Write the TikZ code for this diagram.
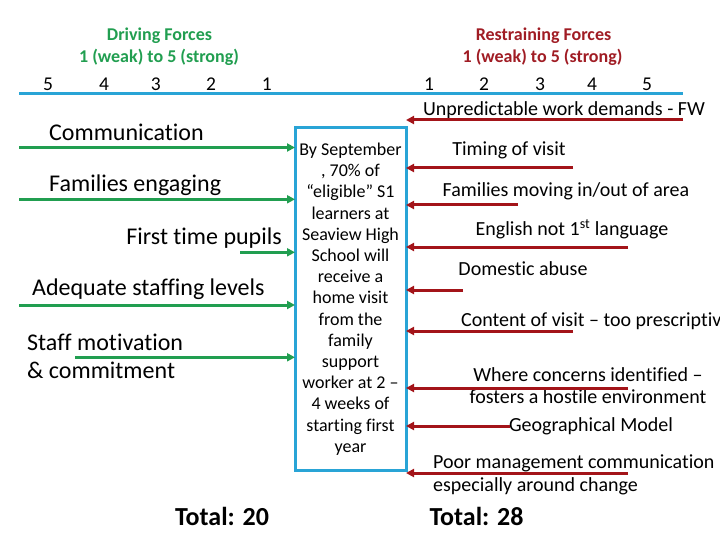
\documentclass[tikz,border=0pt]{standalone}
\usepackage{fontspec}
\setmainfont{Carlito}[Ligatures=CommonOff]
\usetikzlibrary{arrows.meta}
\definecolor{gF}{RGB}{33,158,80}
\definecolor{bF}{RGB}{41,164,214}
\definecolor{rF}{RGB}{163,20,25}
\definecolor{rT}{RGB}{160,28,36}
\begin{document}
\begin{tikzpicture}[x=1pt,y=-1pt,
  lab/.style={inner sep=0, font=\fontsize{24}{28}\selectfont, anchor=base west},
  rlab/.style={inner sep=0, font=\fontsize{20}{24}\selectfont, anchor=base},
  num/.style={inner sep=0, font=\fontsize{19.5}{22}\selectfont, anchor=base},
  ttl/.style={inner sep=0, font=\bfseries\fontsize{18}{21.6}\selectfont, anchor=base},
  tot/.style={inner sep=0, font=\bfseries\fontsize{26}{30}\selectfont, anchor=base},
  garr/.style={draw=gF, line width=3pt, -{Triangle[length=8pt,width=8pt]}},
  rarr/.style={draw=rF, line width=3pt, -{Triangle[length=8pt,width=8pt]}},
]
\useasboundingbox (0,0) rectangle (720,540);
% titles
\node[ttl, text=gF] (tl1) at (159.5,40.7) {Driving Forces};
\node[ttl, text=gF] (tl2) at (159,62.7) {1 (weak) to 5 (strong)};
\node[ttl, text=rT] (tr1) at (543.5,40.7) {Restraining Forces};
\node[ttl, text=rT] (tr2) at (542.5,62.7) {1 (weak) to 5 (strong)};
% scale numbers
\node[num] (nl5) at (48,91) {5};
\node[num] (nl4) at (104,91) {4};
\node[num] (nl3) at (155.7,91) {3};
\node[num] (nl2) at (211,91) {2};
\node[num] (nl1) at (266.7,91) {1};
\node[num] (nr1) at (429,91) {1};
\node[num] (nr2) at (484,91) {2};
\node[num] (nr3) at (540,91) {3};
\node[num] (nr4) at (592,91) {4};
\node[num] (nr5) at (647,91) {5};
% axis
\coordinate (axL) at (19,94);
\coordinate (axR) at (683,94);
\draw[bF, line width=3pt] (axL) -- (axR);
% goal box
\node[draw=bF, line width=3pt, minimum width=111pt, minimum height=342pt, inner sep=0, outer sep=0,
      align=center, font=\fontsize{18}{21.2}\selectfont] (box) at (350.5,299)
 {By September\\, 70\% of\\“eligible” S1\\learners at\\Seaview High\\School will\\receive a\\home visit\\from the\\family\\support\\worker at 2 –\\4 weeks of\\starting first\\year};
% driving labels
\node[lab] (d1) at (49,140.7) {Communication};
\node[lab] (d2) at (49,191.7) {Families engaging};
\node[lab, anchor=base east] (d3) at (282,244) {First time pupils};
\node[lab] (d4) at (32,295) {Adequate staffing levels};
\node[lab] (d5a) at (27,350) {Staff motivation};
\node[lab] (d5b) at (27,378) {\& commitment};
% driving arrows
\coordinate (g1) at (19,147.5);
\coordinate (g2) at (19,199.3);
\coordinate (g3) at (240,252.3);
\coordinate (g4) at (19,305);
\coordinate (g5) at (75,357.3);
\foreach \g in {g1,g2,g3,g4,g5} \draw[garr] (\g) -- (\g -| box.west);
% restraining labels
\node[rlab] (r1) at (564,116) {Unpredictable work demands - FW};
\node[rlab] (r2) at (509,156) {Timing of visit};
\node[rlab] (r3) at (566,196.5) {Families moving in/out of area};
\node[rlab] (r4) at (572,236) {English not 1\textsuperscript{st} language};
\node[rlab] (r5) at (523,275) {Domestic abuse};
\node[rlab, anchor=base west] (r6) at (461,326) {Content of visit – too prescriptive};
\node[rlab] (r7a) at (588,381.5) {Where concerns identified –};
\node[rlab] (r7b) at (588,403.5) {fosters a hostile environment};
\node[rlab] (r8) at (591,431.5) {Geographical Model};
\node[rlab, anchor=base west] (r9a) at (433,468) {Poor management communication –};
\node[rlab, anchor=base west] (r9b) at (433,491.5) {especially around change};
% restraining arrows
\coordinate (q1) at (683,120);
\coordinate (q2) at (573,168);
\coordinate (q3) at (518,205);
\coordinate (q4) at (628,247);
\coordinate (q5) at (463,290);
\coordinate (q6) at (573,331);
\coordinate (q7) at (628,388);
\coordinate (q8) at (510,426);
\coordinate (q9) at (628,473);
\foreach \q in {q1,q2,q3,q4,q5,q6,q7,q8,q9} \draw[rarr] (\q) -- (\q -| box.east);
% totals
\node[tot] (t1) at (222,525.7) {Total: 20};
\node[tot] (t2) at (476.5,525.7) {Total: 28};
\end{tikzpicture}
\end{document}
